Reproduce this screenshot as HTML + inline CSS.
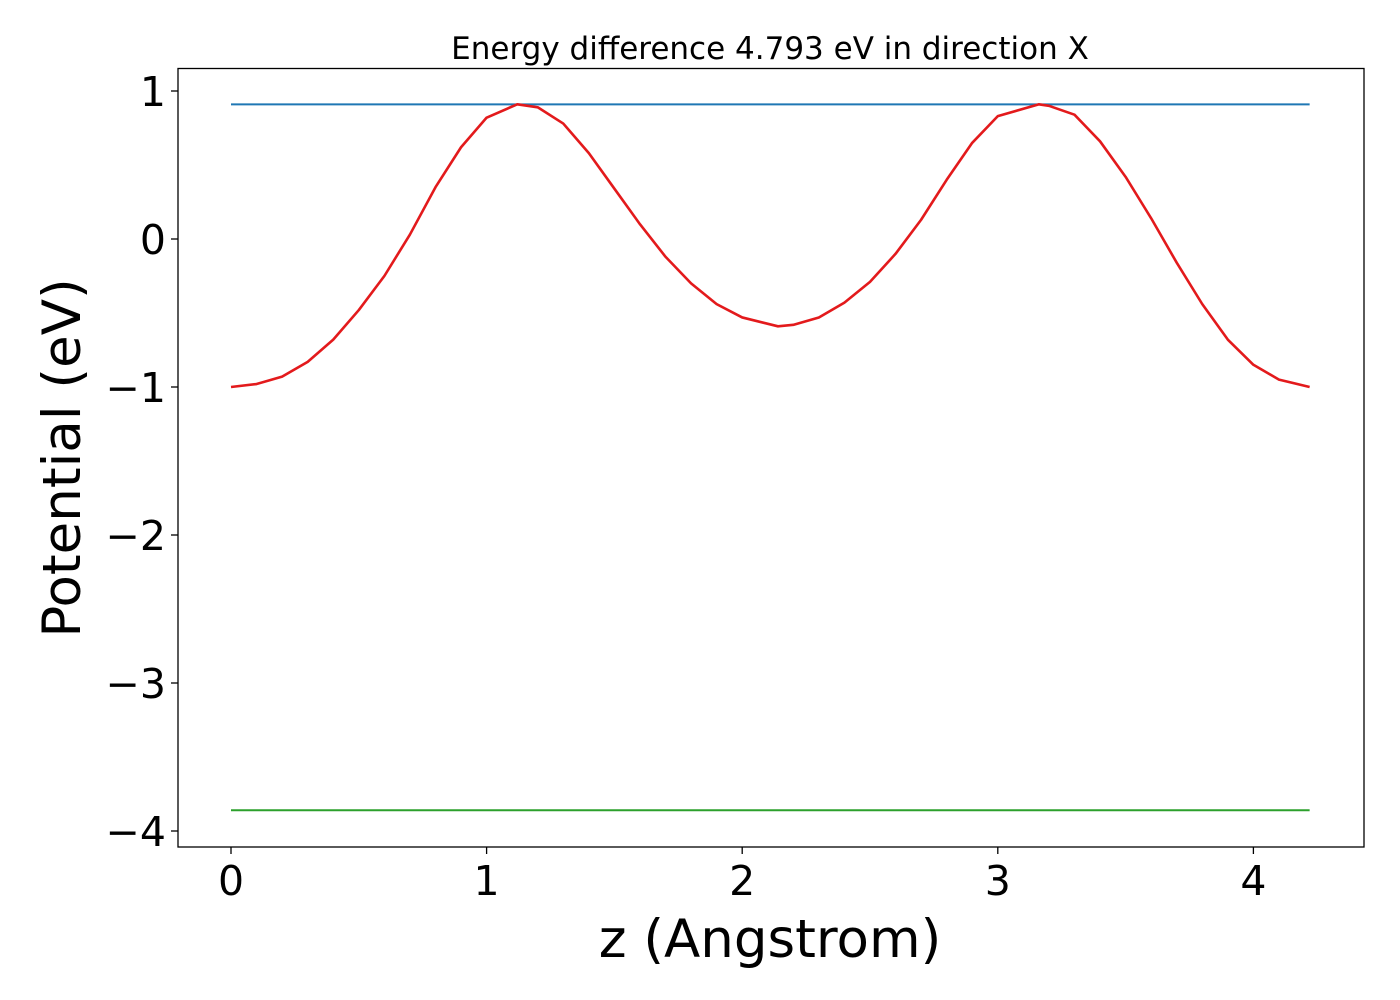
<!DOCTYPE html>
<html><head><meta charset="utf-8"><style>
html,body{margin:0;padding:0;background:#fff;}
svg{display:block;font-family:"DejaVu Sans","Liberation Sans",sans-serif;}
</style></head><body>
<svg id="chart" width="1400" height="1000">
<text x="770" y="59" font-size="31" text-anchor="middle">Energy difference 4.793 eV in direction X</text>
<g id="plot"></g>
<rect x="178" y="68.5" width="1186" height="778.5" fill="none" stroke="#000" stroke-width="1.3"/>
<text x="770" y="957" font-size="53" text-anchor="middle">z (Angstrom)</text>
<text transform="translate(80,458) rotate(-90)" font-size="53" text-anchor="middle">Potential (eV)</text>
</svg>
<script>
const zValues=[0,0.1,0.2,0.3,0.4,0.5,0.6,0.7,0.8,0.9,1.0,1.12,1.2,1.3,1.4,1.5,1.6,1.7,1.8,1.9,2.0,2.14,2.2,2.3,2.4,2.5,2.6,2.7,2.8,2.9,3.0,3.16,3.2,3.3,3.4,3.5,3.6,3.7,3.8,3.9,4.0,4.1,4.22];
const potential=[-1.0,-0.98,-0.93,-0.83,-0.68,-0.48,-0.25,0.03,0.35,0.62,0.82,0.91,0.89,0.78,0.58,0.34,0.10,-0.12,-0.30,-0.44,-0.53,-0.59,-0.58,-0.53,-0.43,-0.29,-0.10,0.13,0.40,0.65,0.83,0.91,0.90,0.84,0.66,0.42,0.14,-0.16,-0.44,-0.68,-0.85,-0.95,-1.0];
const vacuumLevel=[0.91];
const bottomLevel=[-3.86];
const xTicks=[0,1,2,3,4];
const yTicks=[1,0,-1,-2,-3,-4];
const yTickLabels=["1","0","\u22121","\u22122","\u22123","\u22124"];
const NS="http://www.w3.org/2000/svg";
const xs=z=>231+z*255.6;
const ys=v=>239-v*148;
const g=document.getElementById('plot');
function mk(tag,attrs){const e=document.createElementNS(NS,tag);for(const k in attrs)e.setAttribute(k,attrs[k]);g.appendChild(e);return e;}
const z0=zValues[0],z1=zValues[zValues.length-1];
const b=mk('line',{x1:xs(z0),x2:xs(z1),y1:ys(vacuumLevel[0]),y2:ys(vacuumLevel[0]),stroke:'#1f77b4','stroke-width':2});


const gr=mk('line',{x1:xs(z0),x2:xs(z1),y1:ys(bottomLevel[0]),y2:ys(bottomLevel[0]),stroke:'#2ca02c','stroke-width':2});


const r=mk('polyline',{points:zValues.map((z,i)=>xs(z)+','+ys(potential[i])).join(' '),fill:'none',stroke:'#e31a1c','stroke-width':2.6,'stroke-linejoin':'round'});


xTicks.forEach(t=>{
 const l=mk('line',{x1:xs(t),x2:xs(t),y1:847,y2:854,stroke:'#000','stroke-width':1.3});
 
 
 const tx=mk('text',{x:xs(t),y:895,'font-size':41,'text-anchor':'middle'});tx.textContent=String(t);
 
 
});
yTicks.forEach((t,i)=>{
 const l=mk('line',{x1:171,x2:178,y1:ys(t),y2:ys(t),stroke:'#000','stroke-width':1.3});
 
 
 const tx=mk('text',{x:166,y:ys(t)+15,'font-size':41,'text-anchor':'end'});tx.textContent=yTickLabels[i];
 
 
});
</script>
</body></html>
